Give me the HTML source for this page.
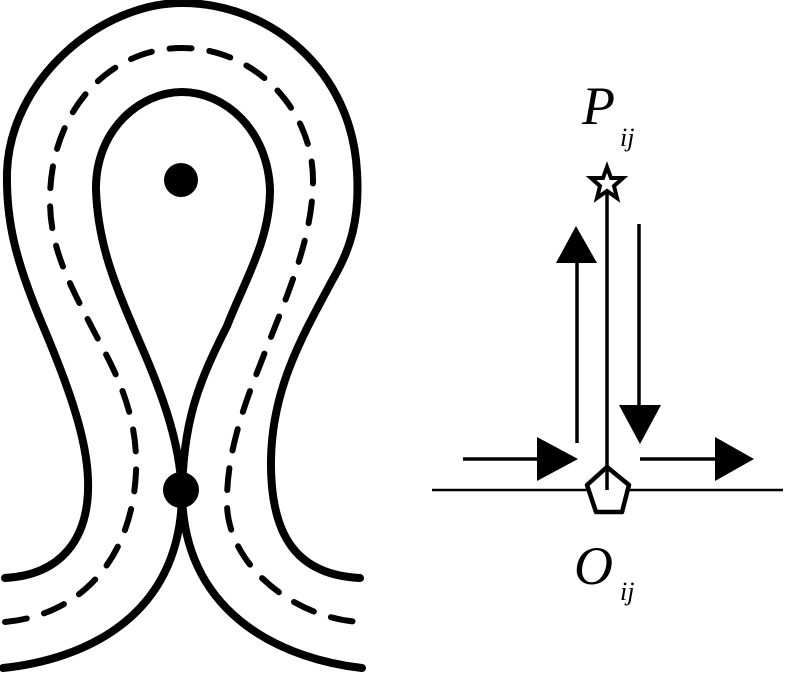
<!DOCTYPE html>
<html><head><style>
body{margin:0;background:#fff;}
svg{display:block}
text{font-family:"Liberation Serif",serif;font-style:italic;fill:#000}
</style></head><body>
<svg width="787" height="673" viewBox="0 0 787 673" xmlns="http://www.w3.org/2000/svg">
<g fill="none" stroke="#000" stroke-linecap="round">
<path stroke-width="8" d="M5,578 C60,575 90,540 88,480 C87,440 70,390 43,326 C15,260 6,220 7,172 C10,80 100,3 182,3 C270,3 352,70 357,172 C360,220 350,250 333,279 C300,340 272,390 271,460 C270,540 300,575 360,578"/>
<path stroke-width="8" d="M182,500 C182,450 165,400 140,343 C115,285 98,245 96,190 C95,130 140,92 182,92 C225,92 268,130 270,190 C270,240 245,280 227,326 C200,380 182,420 182,500"/>
<path stroke-width="8" d="M182,495 C180,620 80,660 3,668"/>
<path stroke-width="8" d="M182,495 C185,620 290,660 362,668"/>
<path stroke-width="6" stroke-dasharray="22,18" d="M5,622 C80,615 132,560 136,472 C138,420 120,380 100,343 C70,285 50,250 50,200 C50,110 110,48 182,48 C255,48 313,110 313,180 C313,240 285,300 260,365 C240,415 226,460 227,506 C230,570 300,620 362,622"/>
</g>
<circle cx="181" cy="180" r="17" fill="#000"/>
<circle cx="181" cy="490" r="18" fill="#000"/>
<g stroke="#000" fill="none">
<line x1="432" y1="490" x2="783" y2="490" stroke-width="2.5"/>
<line x1="607" y1="185" x2="607" y2="490" stroke-width="3.5"/>
<line x1="577" y1="262" x2="577" y2="443" stroke-width="3.5"/>
<line x1="639" y1="224" x2="639" y2="408" stroke-width="3.5"/>
<line x1="463" y1="459" x2="540" y2="459" stroke-width="3.5"/>
<line x1="640" y1="459" x2="718" y2="459" stroke-width="3.5"/>
<polygon points="607,467 629,485 622,512 596,512 587,485" fill="#fff" stroke-width="4.5" stroke-linejoin="round"/>
<line x1="607" y1="467" x2="607" y2="490" stroke-width="3.5"/>
<polygon points="607,167 611,178 623,178 614,186 617,198 607,191 597,198 600,186 591,178 603,178" fill="#fff" stroke-width="4" stroke-linejoin="miter"/>
</g>
<g fill="#000">
<polygon points="576,226 597,263 556,263"/>
<polygon points="640,444 661,405 619,405"/>
<polygon points="578,459 537,437 537,481"/>
<polygon points="754,459 715,437 715,481"/>
</g>
<text x="582" y="124" font-size="54">P</text>
<text x="620" y="146" font-size="26">ij</text>
<text x="574" y="584" font-size="54">O</text>
<text x="620" y="600" font-size="26">ij</text>
</svg>
</body></html>
